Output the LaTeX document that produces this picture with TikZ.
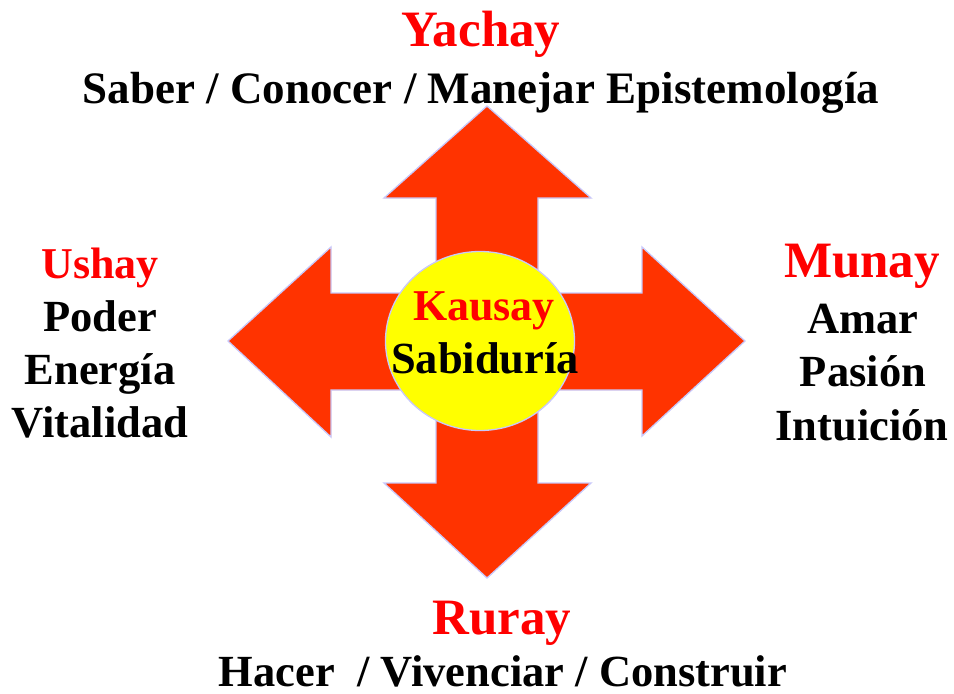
\documentclass[tikz,border=0pt]{standalone}
\usepackage{fontspec}
\setmainfont{Liberation Serif}
\usetikzlibrary{shapes.geometric}
\definecolor{arrowred}{HTML}{FF3300}
\definecolor{edgeblue}{HTML}{C8C8FA}
\definecolor{titlered}{HTML}{FF0000}
\definecolor{discyellow}{HTML}{FFFF00}
\begin{document}
\begin{tikzpicture}[x=1pt,y=-1pt,
  big/.style={inner sep=0pt,anchor=base,text=titlered,font=\bfseries\fontsize{51}{53}\selectfont},
  mid/.style={inner sep=0pt,anchor=base,text=titlered,font=\bfseries\fontsize{44}{46}\selectfont},
  txt/.style={inner sep=0pt,anchor=base,text=black,font=\bfseries\fontsize{44.5}{46}\selectfont}]
\useasboundingbox (0,0) rectangle (954,694);
% cross of four arrows
\draw[fill=arrowred,draw=edgeblue,line width=1.3pt,line join=miter]
  (487,106) -- (591,198) -- (538,198) -- (538,293) -- (642,293) -- (642,247)
  -- (745,341) -- (642,436) -- (642,390) -- (538,390) -- (538,483) -- (591,483)
  -- (487,578) -- (384,483) -- (436,483) -- (436,390) -- (331,390) -- (331,437)
  -- (228,341) -- (331,247) -- (331,293) -- (436,293) -- (436,198) -- (384,198) -- cycle;
% central disc
\node[ellipse,draw=edgeblue,line width=1.3pt,fill=discyellow,
  minimum width=189pt,minimum height=179pt,inner sep=0pt] (disc) at (480,341) {};
\node[mid] (kausay) at (484,320) {Kausay};
\node[txt] (sabiduria) at (485,373) {Sabiduría};
% top
\node[big] (yachay) at (481,46) {Yachay};
\node[txt,font=\bfseries\fontsize{45}{46}\selectfont] (saber) at (481,103) {Saber / Conocer / Manejar Epistemología};
% left
\node[mid] (ushay) at (100,278) {Ushay};
\node[txt] (poder) at (100,331) {Poder};
\node[txt] (energia) at (100,384) {Energía};
\node[txt] (vitalidad) at (100,437) {Vitalidad};
% right
\node[big] (munay) at (862,277) {Munay};
\node[txt] (amar) at (863,333) {Amar};
\node[txt] (pasion) at (863,386) {Pasión};
\node[txt] (intuicion) at (862,440) {Intuición};
% bottom
\node[big] (ruray) at (502,634) {Ruray};
\node[txt] (hacer) at (503,686) {Hacer\ \ / Vivenciar / Construir};
\end{tikzpicture}
\end{document}
